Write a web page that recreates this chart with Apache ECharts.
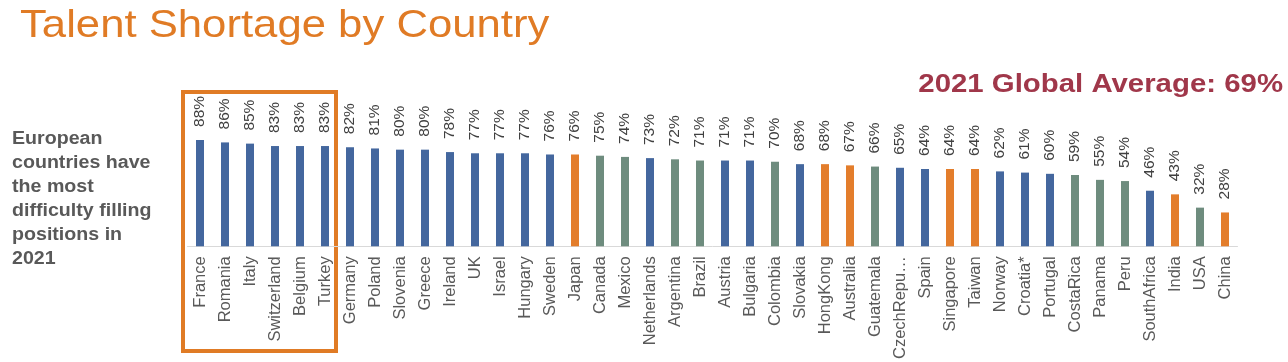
<!DOCTYPE html>
<html>
<head>
<meta charset="utf-8">
<script src="https://cdn.jsdelivr.net/npm/echarts@6/dist/echarts.min.js"></script>
<style>
html,body{margin:0;padding:0;background:#fff;}
#chart{width:1288px;height:362px;}
</style>
</head>
<body>
<div id="chart"></div>
<script>
const categories = ["France","Romania","Italy","Switzerland","Belgium","Turkey","Germany","Poland","Slovenia","Greece","Ireland","UK","Israel","Hungary","Sweden","Japan","Canada","Mexico","Netherlands","Argentina","Brazil","Austria","Bulgaria","Colombia","Slovakia","HongKong","Australia","Guatemala","CzechRepu…","Spain","Singapore","Taiwan","Norway","Croatia*","Portugal","CostaRica","Panama","Peru","SouthAfrica","India","USA","China"];
const values = [88,86,85,83,83,83,82,81,80,80,78,77,77,77,76,76,75,74,73,72,71,71,71,70,68,68,67,66,65,64,64,64,62,61,60,59,55,54,46,43,32,28];
const regions = ["EMEA","EMEA","EMEA","EMEA","EMEA","EMEA","EMEA","EMEA","EMEA","EMEA","EMEA","EMEA","EMEA","EMEA","EMEA","APAC","AM","AM","EMEA","AM","AM","EMEA","EMEA","AM","EMEA","APAC","APAC","AM","EMEA","EMEA","APAC","APAC","EMEA","EMEA","EMEA","AM","AM","AM","EMEA","APAC","AM","APAC"];
const regionColors = {EMEA:"#44679E", AM:"#6E8C7E", APAC:"#E37D2B"};
const title = "Talent Shortage by Country";
const avgText = "2021 Global Average: 69%";
const noteLines = ["European","countries have","the most","difficulty filling","positions in","2021"];

const chart = echarts.init(document.getElementById('chart'), null, {renderer:'canvas'});
const font = '"Liberation Sans", Arial, sans-serif';
chart.setOption({
  animation:false,
  backgroundColor:'#fff',
  grid:{left:187.5, right:50.5, top:125.5, bottom:107, containLabel:false},
  xAxis:{
    type:'category', data:categories,
    axisLine:{show:true, lineStyle:{color:'#D9D9D9', width:1}},
    axisTick:{show:false},
    axisLabel:{interval:0, rotate:90, fontSize:16.5, color:'#595959', margin:10, fontFamily:font}
  },
  yAxis:{type:'value', min:0, max:100, show:false, splitLine:{show:false}},
  series:[{
    type:'bar', barWidth:8,
    data: values.map((v,i)=>({value:v, itemStyle:{color:regionColors[regions[i]]}})),
    label:{show:true, position:'top', rotate:90, align:'left', verticalAlign:'middle', distance:13,
      formatter:'{c}%', fontSize:15.5, color:'#404040', fontFamily:font}
  }],
  graphic:[
    {type:'text', x:20, y:7, scaleX:1.12, style:{text:title, fill:'#E07B25', font:'39px '+font, align:'left', verticalAlign:'top'}},
    {type:'text', x:1283, y:72, scaleX:1.13, style:{text:avgText, fill:'#A0374A', font:'bold 26px '+font, align:'right', verticalAlign:'top'}},
    {type:'text', x:12, y:127, scaleX:1.09, style:{text:noteLines.join('\n'), fill:'#595959', font:'bold 18px '+font, lineHeight:24, align:'left', verticalAlign:'top'}},
    {type:'rect', shape:{x:183, y:92, width:153, height:259}, style:{fill:'none', stroke:'#E07B25', lineWidth:4}}
  ]
});
</script>
</body>
</html>
